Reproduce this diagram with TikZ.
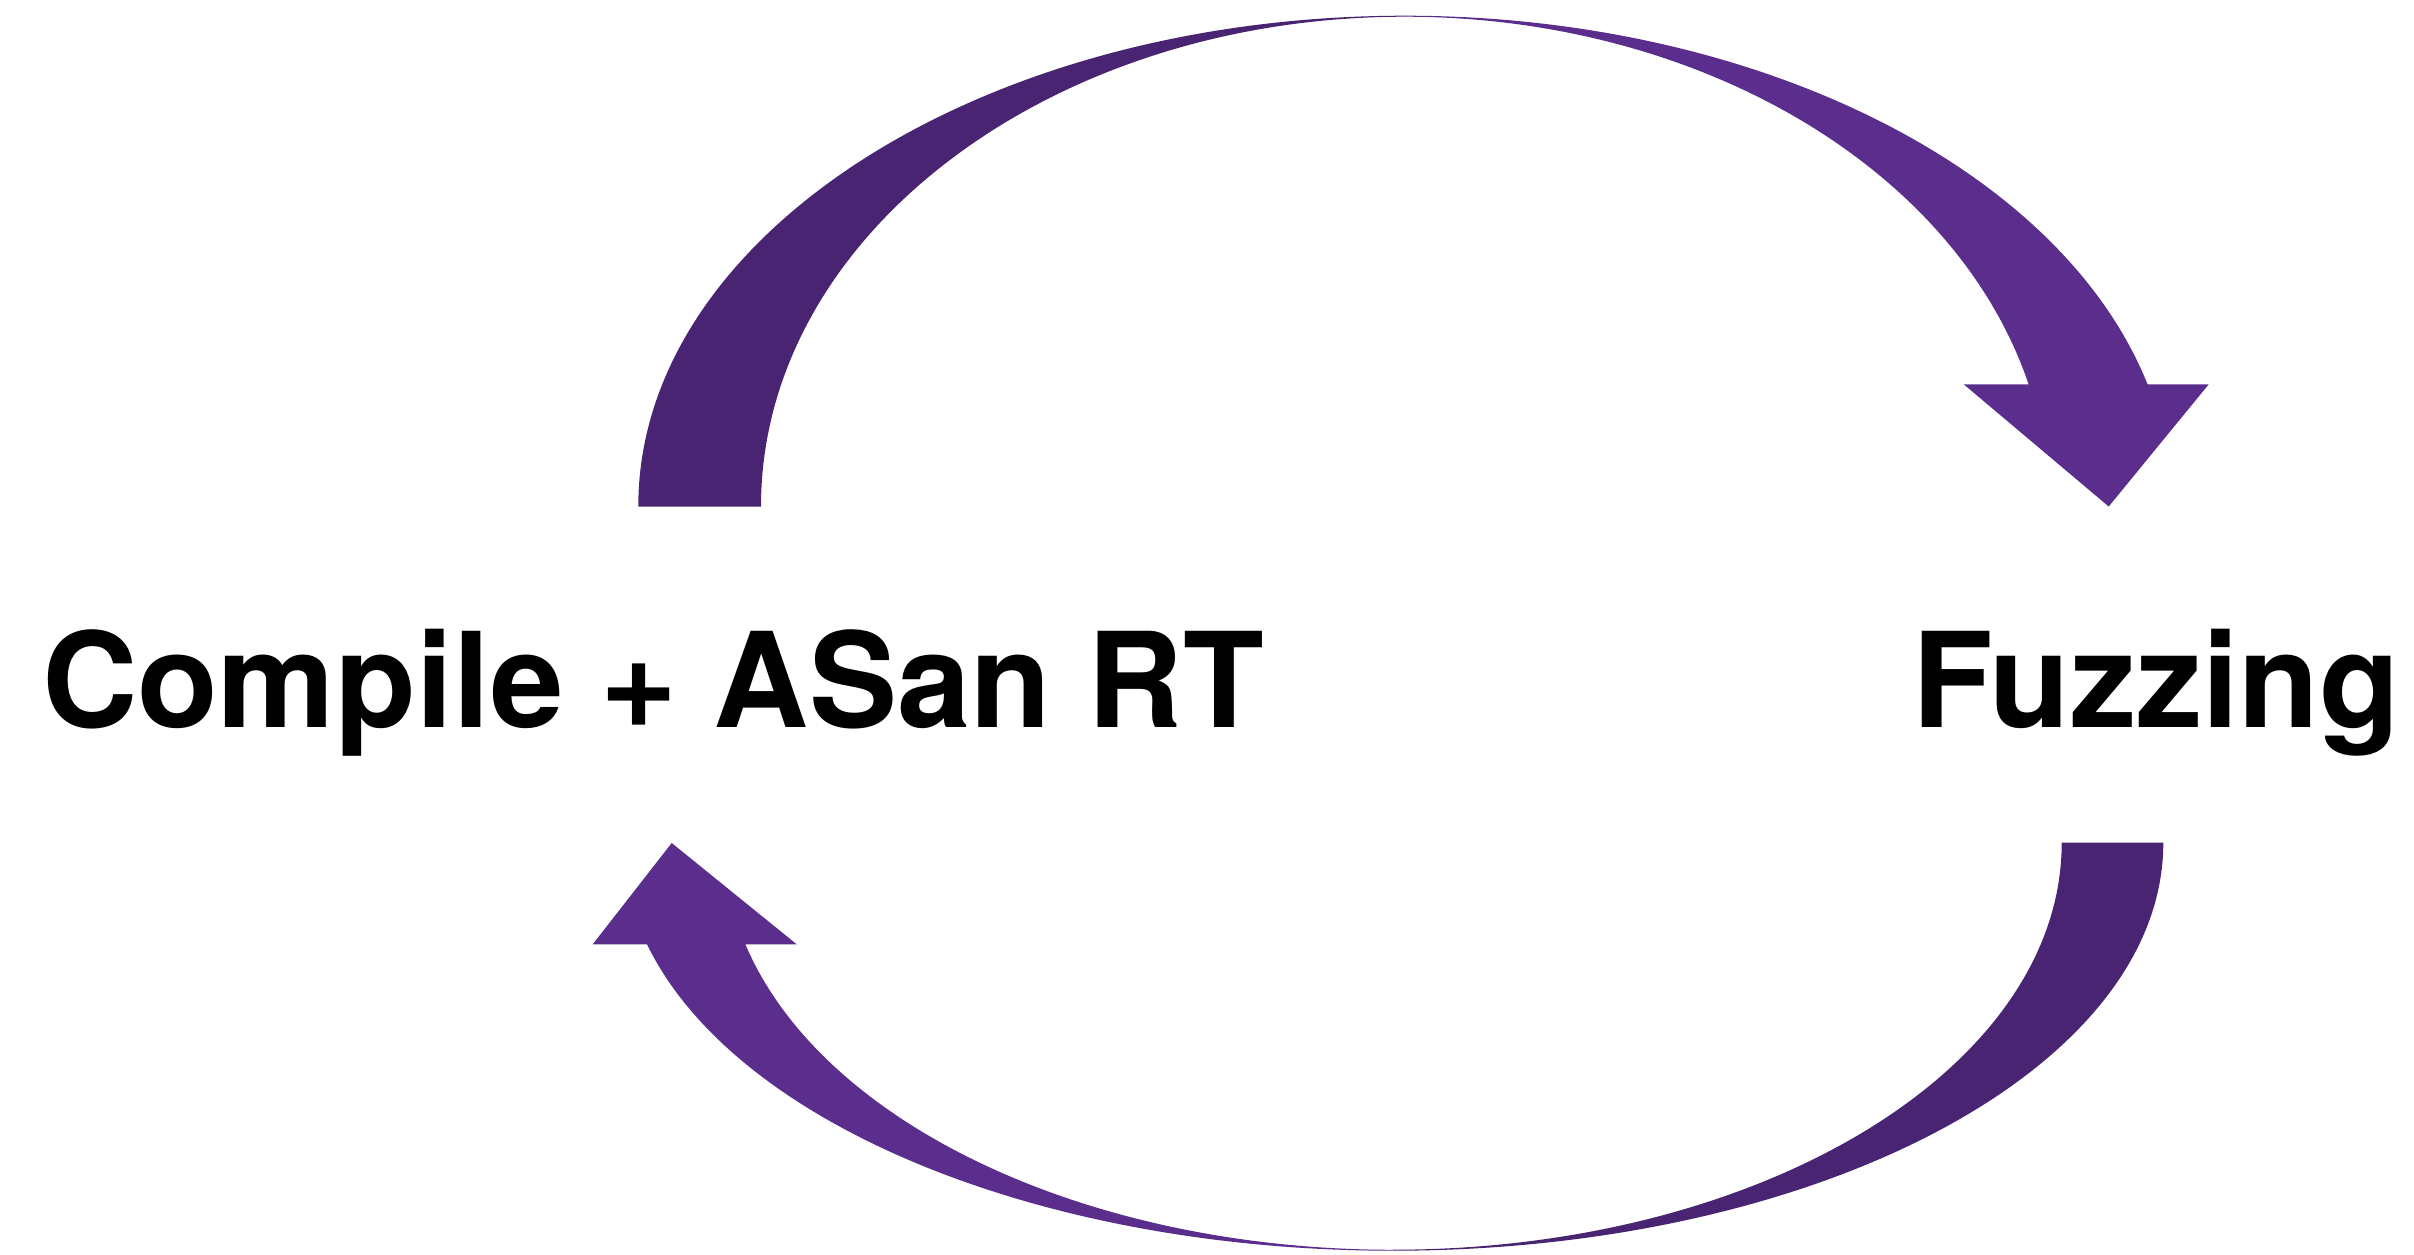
\documentclass[tikz,border=0pt]{standalone}
\usepackage{fontspec}
\setmainfont{TeX Gyre Heros}
\definecolor{arrdark}{HTML}{492472}
\definecolor{arrlight}{HTML}{5B2E8E}
\begin{document}
\begin{tikzpicture}[x=0.5pt,y=0.5pt,
  lbl/.style={inner sep=0pt,outer sep=0pt,font=\fontsize{66pt}{80pt}\selectfont\bfseries,text=black},
  darkpart/.style={fill=arrdark},
  lightpart/.style={fill=arrlight}]
\useasboundingbox (0,0) rectangle (2414,-1254);
% ---- top arrow (Compile -> Fuzzing) ----
\coordinate (topc) at (1405,-506.5);
\fill[darkpart] (638.3,-506.5)
  arc[start angle=180,end angle=90,x radius=383.35pt,y radius=245.4pt]
  -- (1405,-16.7)
  arc[start angle=90,end angle=180,x radius=322pt,y radius=244.9pt]
  -- cycle;
\fill[lightpart] (1405,-15.7)
  arc[start angle=90,end angle=14.42,x radius=383.35pt,y radius=245.4pt]
  -- (2208.7,-384.3) -- (2108.7,-506.5) -- (1963.7,-384.3)
  -- (2028.6,-384.3)
  arc[start angle=14.45,end angle=90,x radius=322pt,y radius=244.9pt]
  -- cycle;
% ---- bottom arrow (Fuzzing -> Compile) ----
\coordinate (botc) at (1393,-842.7);
\fill[darkpart] (2163.3,-842.7)
  arc[start angle=0,end angle=-90,x radius=385.15pt,y radius=204pt]
  -- (1393,-1249.7)
  arc[start angle=-90,end angle=0,x radius=334.35pt,y radius=203.5pt]
  -- cycle;
\fill[lightpart] (1393,-1250.7)
  arc[start angle=270,end angle=194.42,x radius=385.15pt,y radius=204pt]
  -- (592.7,-944.3) -- (671.7,-843) -- (796.7,-944.3)
  -- (745.4,-944.3)
  arc[start angle=194.45,end angle=270,x radius=334.35pt,y radius=203.5pt]
  -- cycle;
% ---- labels ----
\node[lbl,anchor=base west] (compile) at (42,-727.3) {Compile + ASan RT};
\node[lbl,anchor=base east] (fuzzing) at (2400,-727.3) {Fuzzing};
\end{tikzpicture}
\end{document}
